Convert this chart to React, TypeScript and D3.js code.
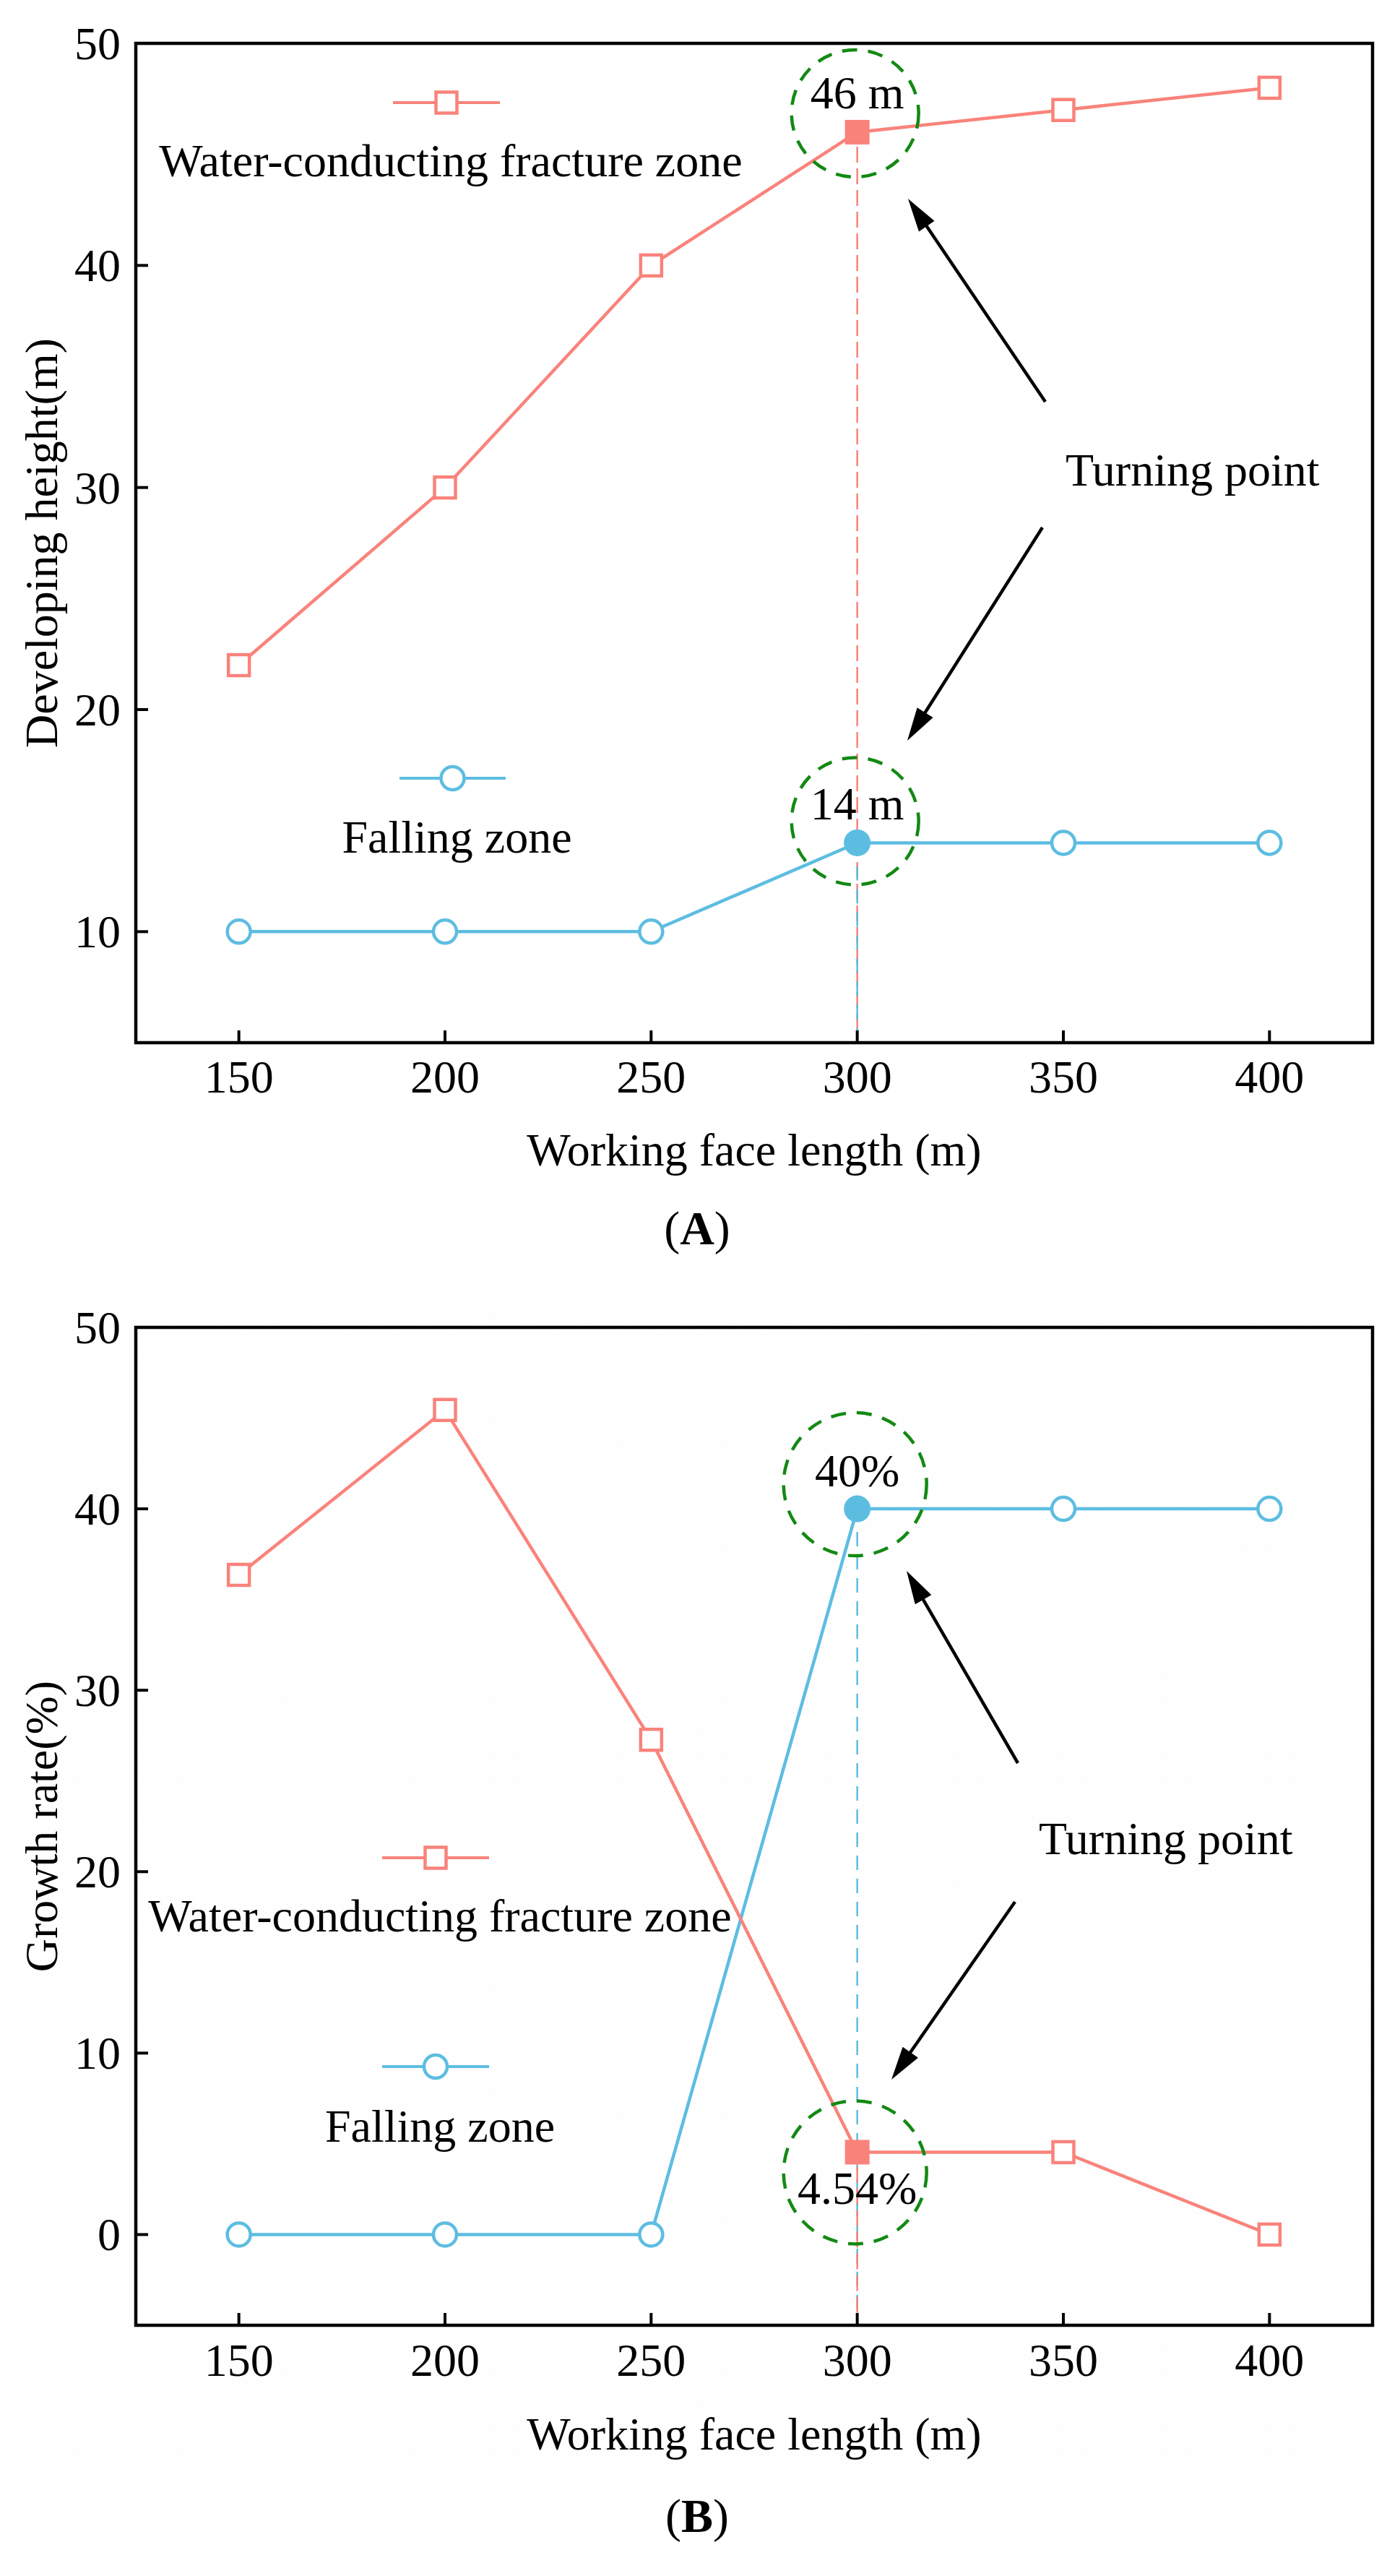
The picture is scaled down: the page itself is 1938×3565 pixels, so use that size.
import React from "react";
import * as d3 from "d3";

// working face length (m)
const lengths = [150, 200, 250, 300, 350, 400];
// (A) developing height (m)
const heightFracture = [22, 30, 40, 46, 47, 48];
const heightFalling = [10, 10, 10, 14, 14, 14];
// (B) growth rate (%)
const rateFracture = [36.36, 45.45, 27.27, 4.54, 4.54, 0];
const rateFalling = [0, 0, 0, 40, 40, 40];

const xTicks = [150, 200, 250, 300, 350, 400];
const heightTicks = [10, 20, 30, 40, 50];
const rateTicks = [0, 10, 20, 30, 40, 50];

const RED = "#f9837b";
const BLUE = "#5dbde1";
const GREEN = "#138913";
const FONT = "'Liberation Serif', 'Times New Roman', serif";
const FS = 64;
const W = 1938;
const H = 3565;

const x = d3.scaleLinear().domain([125, 425]).range([188, 1900]);

type Arrow = [number, number, number, number];

const panels = [
  {
    tag: "A",
    yDomain: [5, 50],
    yRange: [1443, 60],
    yTicks: heightTicks,
    yLabel: "Developing height(m)",
    fracture: heightFracture,
    falling: heightFalling,
    unit: (v: number) => `${v} m`,
    fracLegend: { y: 142, x0: 544, x1: 692, text: 244 },
    fallLegend: { y: 1077, x0: 553, x1: 700, text: 1180 },
    fracLabelDy: -33,
    fallLabelDy: -32,
    fracCircleDy: -26,
    fallCircleDy: -30,
    r: 88,
    turnX: 1475,
    turnY: 672,
    arrows: [
      [1447, 556, 1257, 275],
      [1443, 730, 1256, 1025],
    ] as Arrow[],
    dashTopSeries: "fracture",
    tickBase: 1512,
    titleBase: 1613,
    tagBase: 1722,
    bg: false,
  },
  {
    tag: "B",
    yDomain: [-5, 50],
    yRange: [3218, 1837],
    yTicks: rateTicks,
    yLabel: "Growth rate(%)",
    fracture: rateFracture,
    falling: rateFalling,
    unit: (v: number) => `${v}%`,
    fracLegend: { y: 2571, x0: 529, x1: 677, text: 2673 },
    fallLegend: { y: 2860, x0: 529, x1: 677, text: 2964 },
    fracLabelDy: 72,
    fallLabelDy: -31,
    fracCircleDy: 28,
    fallCircleDy: -34,
    r: 99,
    turnX: 1438,
    turnY: 2566,
    arrows: [
      [1409, 2440, 1255, 2174],
      [1405, 2632, 1234, 2878],
    ] as Arrow[],
    dashTopSeries: "falling",
    tickBase: 3288,
    titleBase: 3390,
    tagBase: 3504,
    bg: true,
  },
];

const ArrowMark = ({ a }: { a: Arrow }) => {
  const [x0, y0, x1, y1] = a;
  const len = Math.hypot(x1 - x0, y1 - y0);
  const ux = (x1 - x0) / len;
  const uy = (y1 - y0) / len;
  const hl = 46;
  const hw = 13;
  const bx = x1 - ux * hl;
  const by = y1 - uy * hl;
  const head = `M${x1},${y1}L${bx - uy * hw},${by + ux * hw}L${bx + uy * hw},${by - ux * hw}Z`;
  return (
    <g>
      <line x1={x0} y1={y0} x2={bx + ux * 4} y2={by + uy * 4} stroke="#000" strokeWidth={4.5} />
      <path d={head} fill="#000" />
    </g>
  );
};

const Square = ({ cx, cy, filled }: { cx: number; cy: number; filled?: boolean }) =>
  filled ? (
    <rect x={cx - 17} y={cy - 17} width={34} height={34} fill={RED} />
  ) : (
    <rect x={cx - 14.5} y={cy - 14.5} width={29} height={29} fill="#fff" stroke={RED} strokeWidth={4.5} />
  );

const Circle = ({ cx, cy, filled }: { cx: number; cy: number; filled?: boolean }) =>
  filled ? (
    <circle cx={cx} cy={cy} r={18.5} fill={BLUE} />
  ) : (
    <circle cx={cx} cy={cy} r={16} fill="#fff" stroke={BLUE} strokeWidth={4.5} />
  );

const Panel = ({ p }: { p: (typeof panels)[number] }) => {
  const y = d3.scaleLinear().domain(p.yDomain).range(p.yRange);
  const [x0, x1] = x.range();
  const [yb, yt] = p.yRange;
  const line = d3
    .line<number>()
    .x((_, i) => x(lengths[i]))
    .y((v) => y(v));
  const ti = 3; // turning point index (300 m)
  const tx = x(lengths[ti]);
  const fy = y(p.fracture[ti]);
  const by = y(p.falling[ti]);
  const cxMid = (x0 + x1) / 2;
  const cyMid = (yb + yt) / 2;
  const fracDash = (
    <line x1={tx} x2={tx} y1={fy + 20} y2={yb} stroke={RED} strokeWidth={2.5} strokeDasharray="22,8" />
  );
  const fallDash = (
    <line
      x1={tx}
      x2={tx}
      y1={by + 32}
      y2={yb}
      stroke={BLUE}
      strokeWidth={2.5}
      strokeDasharray="20,12"
    />
  );
  const fracLegMid = (p.fracLegend.x0 + p.fracLegend.x1) / 2;
  const fallLegMid = (p.fallLegend.x0 + p.fallLegend.x1) / 2;
  return (
    <g fontFamily={FONT} fontSize={FS} fill="#000">
      {p.bg && <rect x={23} y={1812} width={1890} height={1600} fill="url(#dots)" />}

      {/* vertical guide lines at the turning point */}
      {p.dashTopSeries === "fracture" ? (
        <>
          {fracDash}
          {fallDash}
        </>
      ) : (
        <>
          {fallDash}
          {fracDash}
        </>
      )}

      {/* series */}
      <path d={line(p.falling) || ""} fill="none" stroke={BLUE} strokeWidth={4.5} />
      <path d={line(p.fracture) || ""} fill="none" stroke={RED} strokeWidth={4.5} />
      {p.falling.map((v, i) => (
        <Circle key={"c" + i} cx={x(lengths[i])} cy={y(v)} filled={i === ti} />
      ))}
      {p.fracture.map((v, i) => (
        <Square key={"s" + i} cx={x(lengths[i])} cy={y(v)} filled={i === ti} />
      ))}

      {/* turning point highlights */}
      <circle
        cx={tx - 3}
        cy={fy + p.fracCircleDy}
        r={p.r}
        fill="none"
        stroke={GREEN}
        strokeWidth={4.5}
        strokeDasharray="21,15"
      />
      <circle
        cx={tx - 3}
        cy={by + p.fallCircleDy}
        r={p.r}
        fill="none"
        stroke={GREEN}
        strokeWidth={4.5}
        strokeDasharray="21,15"
      />
      <text x={tx} y={fy + p.fracLabelDy} textAnchor="middle">
        {p.unit(p.fracture[ti])}
      </text>
      <text x={tx} y={by + p.fallLabelDy} textAnchor="middle">
        {p.unit(p.falling[ti])}
      </text>

      {/* arrows */}
      {p.arrows.map((a, i) => (
        <ArrowMark key={i} a={a} />
      ))}
      <text x={p.turnX} y={p.turnY}>Turning point</text>

      {/* legend */}
      <line
        x1={p.fracLegend.x0}
        x2={p.fracLegend.x1}
        y1={p.fracLegend.y}
        y2={p.fracLegend.y}
        stroke={RED}
        strokeWidth={4}
      />
      <Square cx={fracLegMid} cy={p.fracLegend.y} />
      <text x={fracLegMid + 6} y={p.fracLegend.text} textAnchor="middle">
        Water-conducting fracture zone
      </text>
      <line
        x1={p.fallLegend.x0}
        x2={p.fallLegend.x1}
        y1={p.fallLegend.y}
        y2={p.fallLegend.y}
        stroke={BLUE}
        strokeWidth={4}
      />
      <Circle cx={fallLegMid} cy={p.fallLegend.y} />
      <text x={fallLegMid + 6} y={p.fallLegend.text} textAnchor="middle">
        Falling zone
      </text>

      {/* frame and ticks */}
      <rect x={x0} y={yt} width={x1 - x0} height={yb - yt} fill="none" stroke="#000" strokeWidth={4.5} />
      {xTicks.map((t) => (
        <g key={"x" + t}>
          <line x1={x(t)} x2={x(t)} y1={yb} y2={yb - 17} stroke="#000" strokeWidth={4} />
          <text x={x(t)} y={p.tickBase} textAnchor="middle">
            {t}
          </text>
        </g>
      ))}
      {p.yTicks.map((t) => (
        <g key={"y" + t}>
          <line x1={x0} x2={x0 + 17} y1={y(t)} y2={y(t)} stroke="#000" strokeWidth={4} />
          <text x={167} y={y(t) + 22} textAnchor="end">
            {t}
          </text>
        </g>
      ))}
      <text x={cxMid} y={p.titleBase} textAnchor="middle">
        Working face length (m)
      </text>
      <text transform={`translate(79,${cyMid}) rotate(-90)`} textAnchor="middle">
        {p.yLabel}
      </text>
      <text x={965} y={p.tagBase} textAnchor="middle" fontSize={66}>
        (<tspan fontWeight="bold">{p.tag}</tspan>)
      </text>
    </g>
  );
};

export default function App() {
  return (
    <svg
      width={W}
      height={H}
      viewBox={`0 0 ${W} ${H}`}
      style={{ position: "absolute", left: 0, top: 0, background: "#fff" }}
    >
      <defs>
        <pattern id="dots" width={6} height={6} patternUnits="userSpaceOnUse">
          <rect x={1} y={1} width={1.2} height={1.2} fill="#f2d4d4" opacity={0.3} />
          <rect x={4} y={4} width={1.2} height={1.2} fill="#cfeef3" opacity={0.3} />
        </pattern>
      </defs>
      <rect width={W} height={H} fill="#fff" />
      {panels.map((p) => (
        <Panel key={p.tag} p={p} />
      ))}
    </svg>
  );
}
